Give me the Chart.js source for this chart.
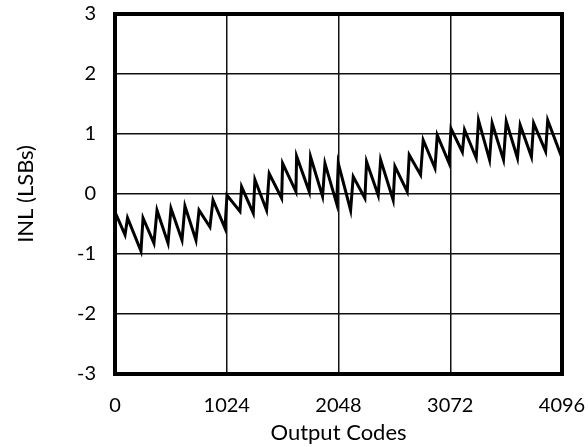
<!DOCTYPE html>
<html>
<head>
<meta charset="utf-8">
<script src="https://cdn.jsdelivr.net/npm/chart.js@4"></script>
<style>
  html, body { margin: 0; padding: 0; background: #fff; }
  #wrap { width: 588px; height: 447px; }
</style>
</head>
<body>
<div id="wrap"><canvas id="inlChart" width="588" height="447"></canvas></div>
<script>
// sawtooth vertices (code, INL)
const codes = [
    0, 92, 115, 238, 257, 357, 385, 486, 513, 614, 641, 742, 770, 870, 898, 1008,
    1026, 1145, 1160, 1267, 1282, 1389, 1413, 1527, 1536, 1658, 1664, 1780, 1792, 1902, 1924, 2031,
    2046, 2159, 2183, 2290, 2305, 2412, 2434, 2549, 2565, 2678, 2696, 2800, 2824, 2932,
    2953, 3060, 3079, 3183, 3203, 3310, 3331, 3432, 3456, 3560, 3585, 3688, 3713, 3816, 3836, 3946, 3965, 4096
];
const inl = [
    -0.30, -0.68, -0.40, -0.95, -0.40, -0.82, -0.27, -0.82, -0.24, -0.77, -0.20, -0.77, -0.27, -0.55, -0.10, -0.57,
    -0.02, -0.29, 0.12, -0.32, 0.24, -0.27, 0.34, -0.07, 0.51, 0.04, 0.63, 0.04, 0.62, -0.04, 0.51, -0.16,
    0.51, -0.27, 0.29, -0.07, 0.54, -0.02, 0.57, -0.10, 0.46, 0.04, 0.65, 0.32, 0.90, 0.43,
    0.98, 0.52, 1.09, 0.70, 1.07, 0.60, 1.23, 0.57, 1.18, 0.57, 1.21, 0.60, 1.15, 0.62, 1.18, 0.71, 1.23, 0.60
];
const xTicks = [0, 1024, 2048, 3072, 4096];
const yTicks = [-3, -2, -1, 0, 1, 2, 3];

const points = codes.map((c, i) => ({ x: c, y: inl[i] }));
const tickFont = { family: 'Lato', size: 20 };
const titleFont = { family: 'Lato', size: 22 };

// thick frame around the plot area
const framePlugin = {
    id: 'frame',
    afterDatasetsDraw(chart) {
        const a = chart.chartArea;
        const ctx = chart.ctx;
        ctx.save();
        ctx.strokeStyle = '#000';
        ctx.lineWidth = 4;
        ctx.strokeRect(a.left, a.top, a.right - a.left, a.bottom - a.top);
        ctx.restore();
    }
};

new Chart(document.getElementById('inlChart'), {
    type: 'line',
    data: {
        datasets: [{
            data: points,
            borderColor: '#000',
            borderWidth: 3,
            pointRadius: 0,
            tension: 0,
            fill: false
        }]
    },
    options: {
        responsive: false,
        animation: false,
        layout: { padding: { top: 14, right: 26, bottom: 0, left: 0 } },
        plugins: { legend: { display: false }, tooltip: { enabled: false } },
        scales: {
            x: {
                type: 'linear',
                min: 0,
                max: 4096,
                afterBuildTicks: s => { s.ticks = xTicks.map(v => ({ value: v })); },
                afterFit: s => { s.height = 73; s.paddingLeft = 0; s.paddingRight = 0; },
                grid: { color: '#111', lineWidth: 1.5, drawTicks: false },
                border: { display: false },
                ticks: { color: '#000', font: tickFont, padding: 20, maxRotation: 0, callback: v => String(v) },
                title: { display: true, text: 'Output Codes', color: '#000', font: titleFont, padding: { top: 1, bottom: 1 } }
            },
            y: {
                min: -3,
                max: 3,
                afterBuildTicks: s => { s.ticks = yTicks.map(v => ({ value: v })); },
                afterFit: s => { s.width = 115; s.paddingTop = 0; s.paddingBottom = 0; },
                grid: { color: '#111', lineWidth: 1.5, drawTicks: false },
                border: { display: false },
                ticks: { color: '#000', font: tickFont, padding: 19, callback: v => String(v) },
                title: { display: true, text: 'INL (LSBs)', color: '#000', font: titleFont, padding: { top: 13, bottom: 13 } }
            }
        }
    },
    plugins: [framePlugin]
});
</script>
</body>
</html>
